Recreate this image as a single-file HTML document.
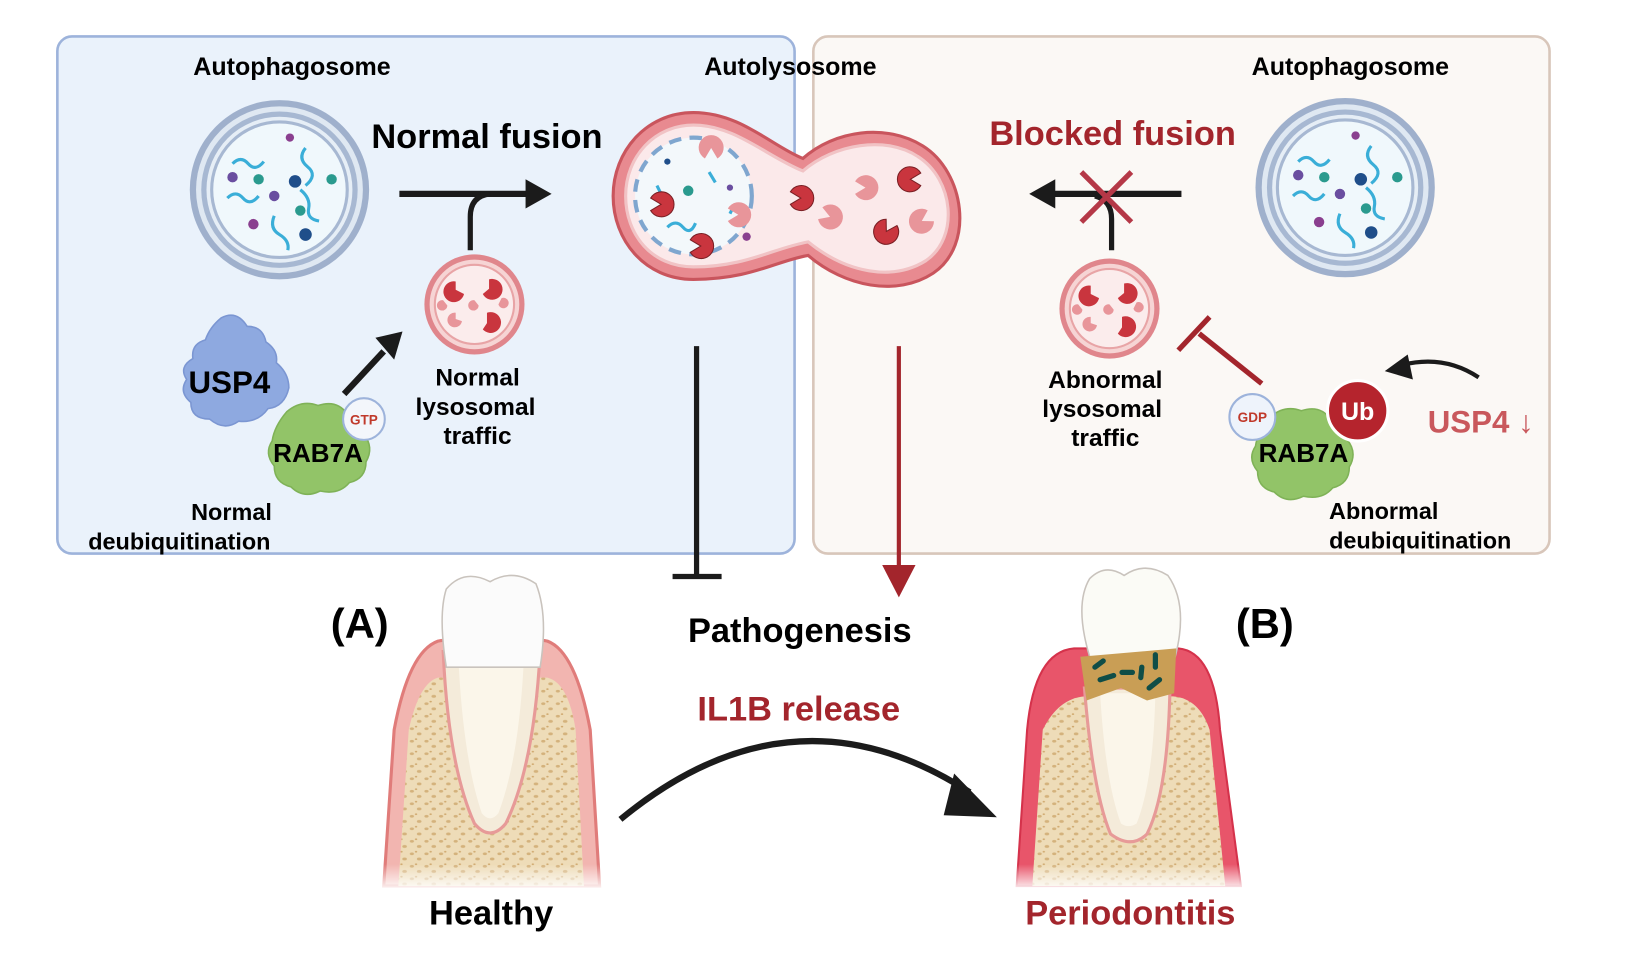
<!DOCTYPE html>
<html><head><meta charset="utf-8"><style>
html,body{margin:0;padding:0;background:#fff;}
svg{display:block;}
text{font-family:"Liberation Sans",Arial,sans-serif;font-weight:bold;text-anchor:middle;}
</style></head><body>
<svg width="1634" height="957" viewBox="0 0 1567 918" preserveAspectRatio="none" xmlns="http://www.w3.org/2000/svg">
<defs>
<g id="autoph">
  <circle r="86" fill="#9fb0cc"/>
  <circle r="80" fill="#dfe8f2"/>
  <circle r="75" fill="#a7b8d2"/>
  <circle r="70" fill="#e6eef6"/>
  <circle r="65" fill="#f0f8fc" stroke="#a7b8d2" stroke-width="3"/>
  <path d="M-45,-25 q8,-8 15,0 t15,-2" stroke="#3aaed8" stroke-width="3" fill="none"/>
  <path d="M25,-40 q-8,10 2,18 t-2,18" stroke="#3aaed8" stroke-width="3" fill="none"/>
  <path d="M-50,8 q8,-8 15,0 t15,-2" stroke="#3aaed8" stroke-width="3" fill="none"/>
  <path d="M20,0 q10,8 8,18 t10,12" stroke="#3aaed8" stroke-width="3" fill="none"/>
  <path d="M-5,25 q-5,12 5,18 t8,15" stroke="#3aaed8" stroke-width="3" fill="none"/>
  <circle cx="-45" cy="-12" r="5" fill="#6a4ea0"/><circle cx="-20" cy="-10" r="5" fill="#2a9a8e"/>
  <circle cx="15" cy="-8" r="6" fill="#1f4e8a"/><circle cx="50" cy="-10" r="5" fill="#2a9a8e"/>
  <circle cx="-5" cy="6" r="5" fill="#6a4ea0"/><circle cx="20" cy="20" r="5" fill="#2a9a8e"/>
  <circle cx="-25" cy="33" r="5" fill="#8a3f8f"/><circle cx="25" cy="43" r="6" fill="#1f4e8a"/>
  <circle cx="10" cy="-50" r="4" fill="#8a3f8f"/>
</g>
<g id="lyso">
  <circle r="48" fill="#e0868c"/>
  <circle r="43" fill="#f6d4d4"/>
  <circle r="38" fill="#fbecec" stroke="#e8a4a6" stroke-width="2"/>
  <path d="M-18,-22 a10,10 0 1,0 8,12 l-8,-4z" fill="#c9353e"/>
  <path d="M14,-24 a10,10 0 1,1 -6,14 l6,-5z" fill="#c9353e"/>
  <path d="M12,8 a10,10 0 1,1 -4,16 l4,-6z" fill="#c9353e"/>
  <path d="M-18,8 a7,7 0 1,0 6,8 l-6,-2z" fill="#e8959a"/>
  <path d="M-30,-4 a5,5 0 1,0 4,5z" fill="#e8959a"/>
  <path d="M0,-4 a5,5 0 1,0 4,5z" fill="#e8959a"/>
  <path d="M26,-6 a5,5 0 1,1 -3,6z" fill="#e8959a"/>
</g>
<g id="pac">
  <path d="M0,0 l10,-6 a12,12 0 1,0 0,12z" fill="#c9353e" stroke="#7a1f24" stroke-width="1"/>
</g>
<g id="pacl">
  <path d="M0,0 l10,-6 a12,12 0 1,0 0,12z" fill="#e8959a"/>
</g>
<pattern id="bone" width="14" height="12" patternUnits="userSpaceOnUse">
  <rect width="14" height="12" fill="#eedcb8"/>
  <ellipse cx="3" cy="3" rx="2" ry="1.3" fill="#d4b27c"/>
  <ellipse cx="10" cy="8" rx="2.2" ry="1.4" fill="#d4b27c"/>
  <ellipse cx="7" cy="1" rx="1.2" ry="0.8" fill="#cfa86e"/>
</pattern>
<linearGradient id="fade" x1="0" y1="0" x2="0" y2="1">
  <stop offset="0.6" stop-color="#fff" stop-opacity="0"/>
  <stop offset="1" stop-color="#fff" stop-opacity="1"/>
</linearGradient>
</defs>

<!-- panels -->
<rect x="55" y="35" width="707" height="496" rx="14" fill="#eaf2fb" stroke="#9db3db" stroke-width="2.5"/>
<rect x="780" y="35" width="706" height="496" rx="14" fill="#fbf8f5" stroke="#d8c6ba" stroke-width="2.5"/>

<text x="280" y="72" font-size="24">Autophagosome</text>
<text x="758" y="72" font-size="24">Autolysosome</text>
<text x="1295" y="72" font-size="24">Autophagosome</text>

<use href="#autoph" x="268" y="182"/>
<use href="#autoph" x="1290" y="180"/>

<text x="467" y="142" font-size="33">Normal fusion</text>
<text x="1067" y="139" font-size="33" fill="#a3252c">Blocked fusion</text>

<!-- normal fusion arrow -->
<line x1="383" y1="186" x2="508" y2="186" stroke="#1b1b1b" stroke-width="6"/>
<path d="M504,172 L529,186 L504,200z" fill="#1b1b1b"/>
<path d="M451,240 L451,208 Q451,188 470,186" stroke="#1b1b1b" stroke-width="5" fill="none"/>
<use href="#lyso" x="455" y="292"/>
<text x="458" y="370" font-size="23.5">Normal</text>
<text x="456" y="398" font-size="23.5">lysosomal</text>
<text x="458" y="426" font-size="23.5">traffic</text>

<!-- USP4 blob -->
<path d="M212,305 q15,-8 25,8 q15,0 18,15 q12,8 10,20 q12,10 12,24 q-4,18 -20,20 q-10,14 -28,12 q-14,10 -28,-2 q-18,0 -18,-16 q-12,-10 -4,-22 q-8,-12 6,-20 q-2,-14 12,-18 q4,-12 15,-21z" fill="#8ea9e0" stroke="#7b96d2" stroke-width="1.5"/>
<text x="220" y="377" font-size="30">USP4</text>
<!-- RAB7A blob -->
<path d="M275,395 q14,-12 30,-6 q18,-6 28,8 q16,4 16,20 q10,12 2,26 q0,16 -16,20 q-10,12 -28,8 q-16,8 -28,-4 q-16,-4 -16,-20 q-10,-12 -2,-24 q2,-14 14,-28z" fill="#92c468" stroke="#7fb257" stroke-width="1.5"/>
<circle cx="349" cy="402" r="20" fill="#f3f6fb" stroke="#9db3db" stroke-width="2"/>
<text x="349" y="407" font-size="13" fill="#c0392b">GTP</text>
<text x="305" y="443" font-size="25">RAB7A</text>
<line x1="330" y1="378" x2="368" y2="337" stroke="#1b1b1b" stroke-width="6"/>
<path d="M360,324 L386,318 L378,345z" fill="#1b1b1b"/>
<text x="222" y="499" font-size="22.5">Normal</text>
<text x="172" y="527" font-size="22.5">deubiquitination</text>

<!-- autolysosome -->
<path d="M665,108 C710,108 740,140 770,152 C800,125 850,118 885,140 C925,165 935,235 895,262 C860,285 810,275 775,245 C745,250 720,268 665,268 C618,268 588,230 588,188 C588,145 620,108 665,108z" fill="#e88a90" stroke="#c9555d" stroke-width="3"/>
<path d="M665,120 C705,120 735,150 770,164 C800,138 850,130 880,150 C915,172 920,228 888,250 C856,270 812,262 775,232 C742,238 715,256 665,256 C625,256 600,225 600,188 C600,150 628,120 665,120z" fill="#fbe9ea" stroke="#f1c3c5" stroke-width="3"/>
<circle cx="665" cy="188" r="56" fill="#f3f8fb" stroke="#7fa6cf" stroke-width="4" stroke-dasharray="12 8"/>
<circle cx="660" cy="183" r="5" fill="#2a9a8e"/><circle cx="700" cy="180" r="3" fill="#6a4ea0"/>
<circle cx="716" cy="227" r="4" fill="#8a3f8f"/><circle cx="640" cy="155" r="3" fill="#1f4e8a"/>
<path d="M640,218 q8,-8 15,0 t12,-4" stroke="#3aaed8" stroke-width="3" fill="none"/>
<path d="M680,165 l6,10 M700,205 l4,-8 M630,178 l4,8" stroke="#3aaed8" stroke-width="3"/>
<use href="#pac" x="634" y="196" transform="rotate(180 634 196)"/>
<use href="#pac" x="672" y="236" transform="rotate(180 672 236)"/>
<use href="#pacl" x="682" y="142" transform="rotate(90 682 142)"/>
<use href="#pacl" x="708" y="206" transform="rotate(180 708 206)"/>
<use href="#pac" x="768" y="190" transform="rotate(180 768 190)"/>
<use href="#pac" x="873" y="172" transform="rotate(0 873 172)"/>
<use href="#pac" x="850" y="222" transform="rotate(-60 850 222)"/>
<use href="#pacl" x="830" y="180" transform="rotate(180 830 180)"/>
<use href="#pacl" x="796" y="208" transform="rotate(200 796 208)"/>
<use href="#pacl" x="884" y="212" transform="rotate(-30 884 212)"/>

<!-- blocked fusion -->
<line x1="1133" y1="186" x2="1008" y2="186" stroke="#1b1b1b" stroke-width="6"/>
<path d="M1012,172 L987,186 L1012,200z" fill="#1b1b1b"/>
<path d="M1066,240 L1066,210 Q1066,192 1050,188" stroke="#1b1b1b" stroke-width="5" fill="none"/>
<path d="M1037,165 L1085,213 M1085,165 L1037,213" stroke="#b53847" stroke-width="5"/>
<use href="#lyso" x="1064" y="296"/>
<text x="1060" y="372" font-size="23.5">Abnormal</text>
<text x="1057" y="400" font-size="23.5">lysosomal</text>
<text x="1060" y="428" font-size="23.5">traffic</text>
<line x1="1210" y1="368" x2="1150" y2="320" stroke="#a3252c" stroke-width="5"/>
<line x1="1130" y1="336" x2="1160" y2="304" stroke="#a3252c" stroke-width="5"/>

<path d="M1218,400 q14,-12 30,-6 q18,-6 28,8 q16,4 16,20 q10,12 2,26 q0,16 -16,20 q-10,12 -28,8 q-16,8 -28,-4 q-16,-4 -16,-20 q-10,-12 -2,-24 q2,-14 14,-28z" fill="#92c468" stroke="#7fb257" stroke-width="1.5"/>
<circle cx="1201" cy="400" r="22" fill="#eef3fb" stroke="#9db3db" stroke-width="2"/>
<text x="1201" y="405" font-size="13" fill="#c0392b">GDP</text>
<circle cx="1302" cy="394" r="29" fill="#b5242d" stroke="#fff" stroke-width="3"/>
<text x="1302" y="403" font-size="24" fill="#fff">Ub</text>
<text x="1250" y="443" font-size="25">RAB7A</text>
<text x="1420" y="415" font-size="30" fill="#c9585c">USP4 ↓</text>
<path d="M1418,362 Q1385,340 1345,350" stroke="#1b1b1b" stroke-width="4" fill="none"/>
<path d="M1350,340 L1328,356 L1355,364z" fill="#1b1b1b"/>
<text x="1327" y="498" font-size="22.5">Abnormal</text>
<text x="1362" y="526" font-size="22.5">deubiquitination</text>

<!-- pathogenesis connectors -->
<line x1="668" y1="332" x2="668" y2="553" stroke="#1b1b1b" stroke-width="5"/>
<line x1="645" y1="553" x2="692" y2="553" stroke="#1b1b1b" stroke-width="5"/>
<line x1="862" y1="332" x2="862" y2="548" stroke="#a3252c" stroke-width="4"/>
<path d="M846,542 L862,573 L878,542z" fill="#a3252c"/>

<text x="345" y="612" font-size="40">(A)</text>
<text x="1213" y="612" font-size="40">(B)</text>
<text x="767" y="616" font-size="33">Pathogenesis</text>
<text x="766" y="691" font-size="33" fill="#a3252c">IL1B  release</text>

<path d="M595,786 Q760,650 930,760" stroke="#1b1b1b" stroke-width="6" fill="none"/>
<path d="M915,742 L956,784 L905,782z" fill="#1b1b1b"/>

<!-- healthy tooth -->
<g>
  <path d="M378,700 Q392,625 420,615 Q440,610 450,640 L495,640 Q505,610 525,615 Q552,625 566,700 L575,850 L368,850z" fill="#f2b5b0" stroke="#e07c7a" stroke-width="3"/>
  <path d="M392,700 Q402,655 420,650 L525,650 Q545,655 552,700 L560,850 L382,850z" fill="url(#bone)"/>
  <path d="M425,625 Q430,735 455,790 Q470,808 485,790 Q512,735 518,625z" fill="#f4ebda" stroke="#e79a98" stroke-width="3"/>
  <path d="M440,640 Q445,730 462,780 Q470,790 478,780 Q497,730 502,640z" fill="#fbf6ea"/>
  <path d="M428,640 Q420,590 428,565 Q445,545 470,558 Q492,545 514,560 Q526,590 518,640z" fill="#fbfbfb" stroke="#c9c3bd" stroke-width="1.5"/>
  <rect x="360" y="790" width="225" height="65" fill="url(#fade)"/>
</g>
<text x="471" y="887" font-size="33">Healthy</text>

<!-- periodontitis tooth -->
<g>
  <path d="M985,700 Q992,625 1030,622 L1130,622 Q1165,625 1170,700 L1190,850 L975,850z" fill="#e8556a" stroke="#d5324b" stroke-width="2"/>
  <path d="M1000,700 Q1015,670 1040,668 L1125,668 Q1150,670 1160,700 L1175,850 L990,850z" fill="url(#bone)"/>
  <path d="M1040,660 Q1048,760 1065,800 Q1085,815 1100,800 Q1120,760 1122,660z" fill="#f4ebda" stroke="#e79a98" stroke-width="3"/>
  <path d="M1055,665 Q1060,750 1075,790 Q1082,795 1090,790 Q1106,750 1108,665z" fill="#fbf6ea"/>
  <path d="M1045,630 Q1030,580 1045,555 Q1060,540 1078,552 Q1098,538 1120,552 Q1140,580 1127,630z" fill="#fbfbf6" stroke="#c9c3bd" stroke-width="1.5"/>
  <path d="M1036,630 L1128,622 L1126,665 L1100,672 L1075,660 L1042,672z" fill="#c99e55"/>
  <g stroke="#0f4d47" stroke-width="5" stroke-linecap="round">
    <line x1="1050" y1="640" x2="1058" y2="634"/><line x1="1055" y1="652" x2="1068" y2="648"/>
    <line x1="1076" y1="645" x2="1086" y2="645"/><line x1="1095" y1="640" x2="1094" y2="650"/>
    <line x1="1108" y1="628" x2="1108" y2="640"/><line x1="1102" y1="660" x2="1112" y2="652"/>
  </g>
  <rect x="965" y="790" width="235" height="65" fill="url(#fade)"/>
</g>
<text x="1084" y="887" font-size="33" fill="#a3252c">Periodontitis</text>
</svg>
</body></html>
